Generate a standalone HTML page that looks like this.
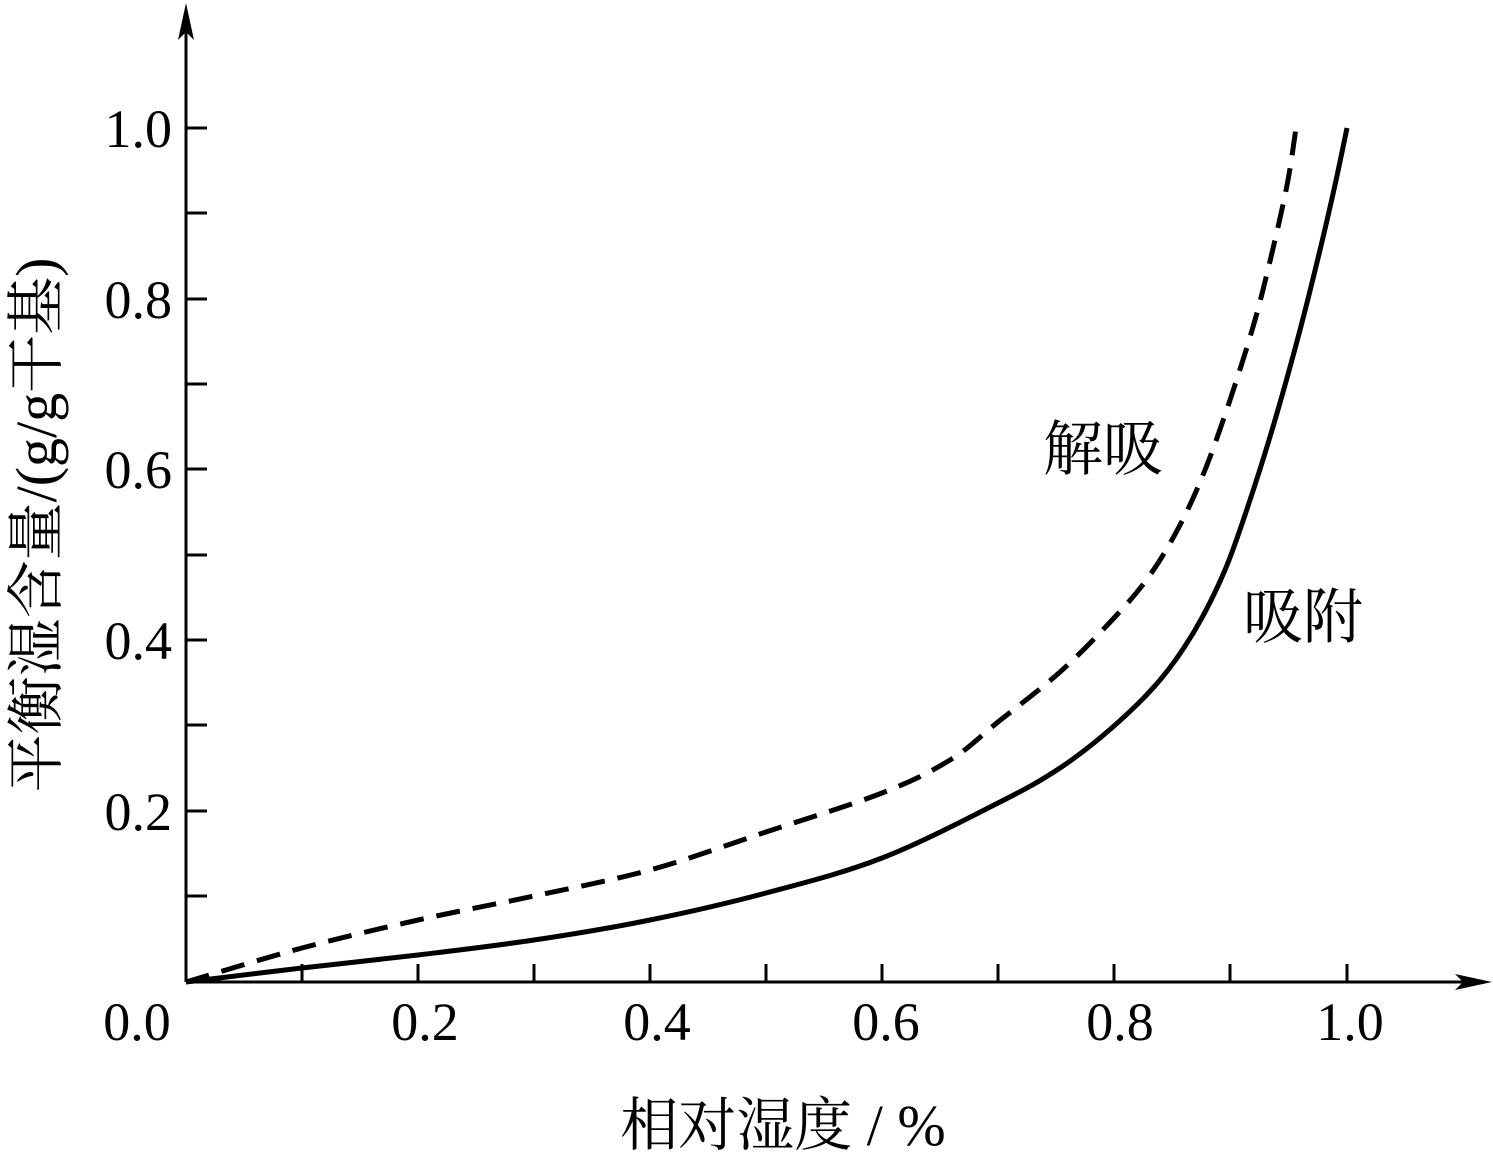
<!DOCTYPE html>
<html><head><meta charset="utf-8"><style>
html,body{margin:0;padding:0;background:#fff;}
</style></head><body>
<svg width="1493" height="1156" viewBox="0 0 1493 1156" xmlns="http://www.w3.org/2000/svg">
<g stroke="#000" stroke-width="3" fill="none">
<line x1="186" y1="982" x2="186" y2="20"/>
<line x1="186" y1="982" x2="1470" y2="982"/>
<line x1="186" y1="128" x2="207" y2="128"/>
<line x1="186" y1="213" x2="207" y2="213"/>
<line x1="186" y1="299" x2="207" y2="299"/>
<line x1="186" y1="384" x2="207" y2="384"/>
<line x1="186" y1="469" x2="207" y2="469"/>
<line x1="186" y1="555" x2="207" y2="555"/>
<line x1="186" y1="640" x2="207" y2="640"/>
<line x1="186" y1="725" x2="207" y2="725"/>
<line x1="186" y1="811" x2="207" y2="811"/>
<line x1="186" y1="896" x2="207" y2="896"/>
<line x1="302" y1="982" x2="302" y2="964"/>
<line x1="418" y1="982" x2="418" y2="964"/>
<line x1="534" y1="982" x2="534" y2="964"/>
<line x1="650" y1="982" x2="650" y2="964"/>
<line x1="766" y1="982" x2="766" y2="964"/>
<line x1="882" y1="982" x2="882" y2="964"/>
<line x1="998" y1="982" x2="998" y2="964"/>
<line x1="1114" y1="982" x2="1114" y2="964"/>
<line x1="1230" y1="982" x2="1230" y2="964"/>
<line x1="1347" y1="982" x2="1347" y2="964"/>
</g>
<polygon points="186,3 178,40 186,32 194,40" fill="#000"/>
<polygon points="1492,982 1455,974 1463,982 1455,990" fill="#000"/>
<path id="solid" d="" stroke="#000" stroke-width="5" fill="none"/>
<path id="dash" d="" stroke="#000" stroke-width="5" fill="none" stroke-dasharray="24,13"/>
<g font-family="'Liberation Serif',serif" font-size="54" fill="#000" text-anchor="end">
<text x="172" y="147">1.0</text>
<text x="172" y="318">0.8</text>
<text x="172" y="488">0.6</text>
<text x="172" y="659">0.4</text>
<text x="172" y="830">0.2</text>
</g>
<g font-family="'Liberation Serif',serif" font-size="54" fill="#000" text-anchor="middle">
<text x="137" y="1040">0.0</text>
<text x="425" y="1040">0.2</text>
<text x="657" y="1040">0.4</text>
<text x="886" y="1040">0.6</text>
<text x="1120" y="1040">0.8</text>
<text x="1350" y="1040">1.0</text>
</g>
<text x="783" y="1145" text-anchor="middle" font-family="'Liberation Serif','Noto Serif CJK SC',serif" font-size="58">相对湿度 / %</text>
<text transform="translate(56,525) rotate(-90)" text-anchor="middle" font-family="'Liberation Serif','Noto Serif CJK SC',serif" font-size="58">平衡湿含量/(g/g干基)</text>
<text x="1043" y="470" font-family="'Liberation Serif','Noto Serif CJK SC',serif" font-size="60">解吸</text>
<text x="1243" y="638" font-family="'Liberation Serif','Noto Serif CJK SC',serif" font-size="60">吸附</text>
</svg>
<script>
function cr(p){var d="M"+p[0][0]+","+p[0][1];for(var i=0;i<p.length-1;i++){var p0=p[i-1]||p[i],p1=p[i],p2=p[i+1],p3=p[i+2]||p2;d+=" C"+(p1[0]+(p2[0]-p0[0])/6)+","+(p1[1]+(p2[1]-p0[1])/6)+" "+(p2[0]-(p3[0]-p1[0])/6)+","+(p2[1]-(p3[1]-p1[1])/6)+" "+p2[0]+","+p2[1];}return d;}
document.getElementById("solid").setAttribute("d",cr([[186,982],[302,968],[418,955],[534,940],[650,920],[766,893],[882,858],[998,803],[1060,768],[1114,726],[1160,680],[1195,630],[1225,570],[1250,500],[1275,420],[1300,330],[1320,250],[1335,185],[1347,128]]));
document.getElementById("dash").setAttribute("d",cr([[186,982],[302,948],[418,920],[534,896],[650,870],[766,832],[882,793],[950,760],[998,722],[1060,672],[1114,618],[1150,575],[1180,525],[1205,470],[1230,400],[1255,320],[1275,240],[1288,180],[1296,128]]));
</script>
</body></html>
